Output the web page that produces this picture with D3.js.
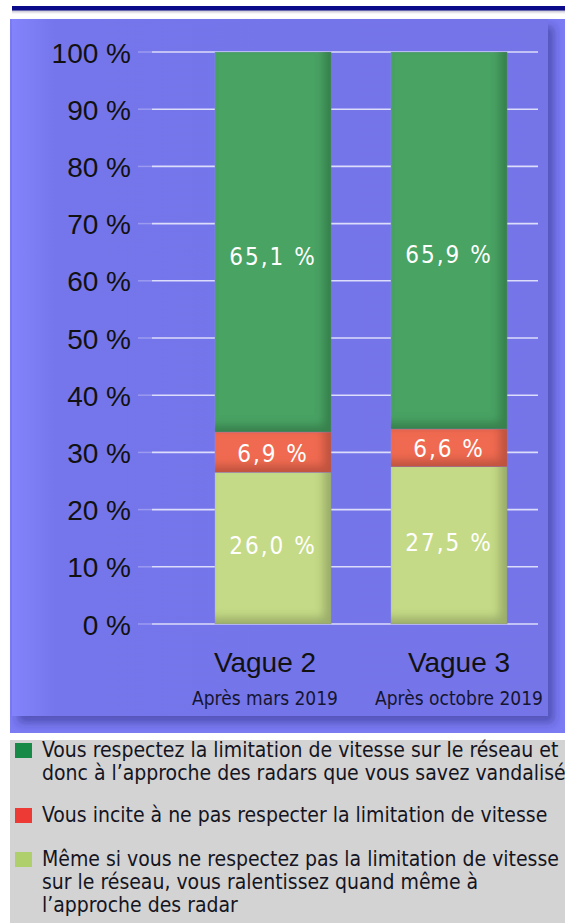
<!DOCTYPE html>
<html>
<head>
<meta charset="utf-8">
<script src="https://cdn.jsdelivr.net/npm/d3@7"></script>
<style>
  html, body { margin: 0; padding: 0; background: #ffffff; }
  svg { display: block; }
  .cond { font-family: "DejaVu Sans Condensed", "DejaVu Sans", sans-serif; font-stretch: condensed; }
  .arial { font-family: "Liberation Sans", Arial, sans-serif; }
</style>
</head>
<body>
<svg id="chart" width="565" height="923"></svg>
<script>
// Survey waves and their period captions
const categories = ["Vague 2", "Vague 3"];
const subtitles = ["Après mars 2019", "Après octobre 2019"];

// Answer shares per wave (%)
const respectValues = [65.1, 65.9];   // respect the limit everywhere
const inciteValues = [6.9, 6.6];      // encourages speeding
const ralentirValues = [26.0, 27.5];  // slow down near the radars anyway

// Stack order, bottom to top
const seriesKeys = ["ralentir", "incite", "respect"];
const seriesColors = ["#c4da86", "#f06a51", "#4aa363"];
const legendColors = ["#aecf6c", "#ee3a35", "#188a48"];

// Y axis ticks (%)
const yTicks = [0, 10, 20, 30, 40, 50, 60, 70, 80, 90, 100];

// Legend entries, top to bottom (one array of lines per entry)
const legendKeys = ["respect", "incite", "ralentir"];
const legendLines = [
  ["Vous respectez la limitation de vitesse sur le réseau et",
   "donc à l\u2019approche des radars que vous savez vandalisés"],
  ["Vous incite à ne pas respecter la limitation de vitesse"],
  ["Même si vous ne respectez pas la limitation de vitesse",
   "sur le réseau, vous ralentissez quand même à",
   "l\u2019approche des radar"]
];

const table = categories.map((c, i) => ({
  cat: c,
  respect: respectValues[i],
  incite: inciteValues[i],
  ralentir: ralentirValues[i]
}));

const svg = d3.select("#chart");
const defs = svg.append("defs");

// Soft bevel: darkened right and bottom inner edges
const bevel = defs.append("filter").attr("id", "bevel")
  .attr("x", "-5%").attr("y", "-5%").attr("width", "110%").attr("height", "110%");
bevel.append("feOffset").attr("in", "SourceAlpha").attr("dx", -8).attr("dy", -7).attr("result", "off");
bevel.append("feGaussianBlur").attr("in", "off").attr("stdDeviation", 4).attr("result", "blur");
bevel.append("feComposite").attr("in", "SourceAlpha").attr("in2", "blur").attr("operator", "out").attr("result", "edge");
bevel.append("feFlood").attr("flood-color", "#000").attr("flood-opacity", 0.4).attr("result", "col");
bevel.append("feComposite").attr("in", "col").attr("in2", "edge").attr("operator", "in").attr("result", "shade");
const bm = bevel.append("feMerge");
bm.append("feMergeNode").attr("in", "SourceGraphic");
bm.append("feMergeNode").attr("in", "shade");

// Drop shadow of the chart panel
const drop = defs.append("filter").attr("id", "drop")
  .attr("x", "-5%").attr("y", "-5%").attr("width", "110%").attr("height", "110%");
drop.append("feGaussianBlur").attr("in", "SourceAlpha").attr("stdDeviation", 4).attr("result", "b");
drop.append("feOffset").attr("in", "b").attr("dx", 6).attr("dy", 7).attr("result", "o");
drop.append("feFlood").attr("flood-color", "#2a2a80").attr("flood-opacity", 0.5).attr("result", "c");
drop.append("feComposite").attr("in", "c").attr("in2", "o").attr("operator", "in").attr("result", "s");
const dm = drop.append("feMerge");
dm.append("feMergeNode").attr("in", "s");
dm.append("feMergeNode").attr("in", "SourceGraphic");

const leftGlow = defs.append("linearGradient").attr("id", "leftGlow")
  .attr("x1", 0).attr("x2", 1).attr("y1", 0).attr("y2", 0);
leftGlow.append("stop").attr("offset", 0).attr("stop-color", "#8383fb");
leftGlow.append("stop").attr("offset", 0.08).attr("stop-color", "#7676ec");
leftGlow.append("stop").attr("offset", 1).attr("stop-color", "#7474e8");

const topShade = defs.append("linearGradient").attr("id", "topShade")
  .attr("x1", 0).attr("x2", 0).attr("y1", 0).attr("y2", 1);
topShade.append("stop").attr("offset", 0).attr("stop-color", "#b8b8c8");
topShade.append("stop").attr("offset", 1).attr("stop-color", "#ffffff");

// Header rule
svg.append("rect").attr("x", 12).attr("y", 10).attr("width", 553).attr("height", 4).attr("fill", "url(#topShade)");
svg.append("rect").attr("x", 12).attr("y", 6).attr("width", 553).attr("height", 4.5).attr("fill", "#0b0b8a");

// Chart panel
svg.append("rect").attr("x", 10).attr("y", 19).attr("width", 555).attr("height", 714).attr("fill", "#7b7bf3");
svg.append("rect").attr("x", 12).attr("y", 19).attr("width", 536).attr("height", 697)
  .attr("fill", "url(#leftGlow)").attr("filter", "url(#drop)");

// Scales
const y = d3.scaleLinear().domain([0, 1]).range([624, 52]);
const x = d3.scaleBand().domain(categories).range([185, 537]).paddingInner(0.34).paddingOuter(0.17);
const xLabel = d3.scalePoint().domain(categories).range([168, 556]).padding(0.5);

// Gridlines
const grid = svg.append("g");
grid.selectAll("line.faint").data(yTicks).join("line")
  .attr("x1", 138).attr("x2", 152)
  .attr("y1", d => y(d / 100)).attr("y2", d => y(d / 100))
  .attr("stroke", "#c8c8f6").attr("stroke-opacity", 0.45).attr("stroke-width", 1.5);
grid.selectAll("line.main").data(yTicks).join("line")
  .attr("x1", 152).attr("x2", 538)
  .attr("y1", d => y(d / 100)).attr("y2", d => y(d / 100))
  .attr("stroke", "#dcdcfb").attr("stroke-width", 1.6);

// Y axis labels
const yAxis = d3.axisLeft(y).tickValues(yTicks.map(d => d / 100))
  .tickFormat(d => Math.round(d * 100) + " %").tickSize(0).tickPadding(0);
const yg = svg.append("g").attr("transform", "translate(131,0)").call(yAxis);
yg.select(".domain").remove();
yg.selectAll("text").attr("class", "arial").attr("font-size", 28).attr("fill", "#111")
  .attr("dy", "0.36em");

// Stacked bars (shares normalised to 100 %)
const stack = d3.stack().keys(seriesKeys).offset(d3.stackOffsetExpand);
const layers = stack(table);
const labelShift = { ralentir: -3, incite: 1, respect: 14 };

const bars = svg.append("g");
layers.forEach((layer, li) => {
  const g = bars.append("g");
  g.selectAll("rect").data(layer).join("rect")
    .attr("x", d => x(d.data.cat))
    .attr("width", x.bandwidth())
    .attr("y", d => y(d[1]))
    .attr("height", d => y(d[0]) - y(d[1]))
    .attr("fill", seriesColors[li])
    .attr("stroke", "#9a9af0").attr("stroke-width", 0.6).attr("stroke-opacity", 0.5)
    .attr("filter", "url(#bevel)");
});
layers.forEach((layer) => {
  const key = layer.key;
  svg.append("g").selectAll("text").data(layer).join("text")
    .attr("class", "cond")
    .attr("x", d => x(d.data.cat) + x.bandwidth() / 2)
    .attr("y", d => (y(d[0]) + y(d[1])) / 2 + labelShift[key])
    .attr("dy", "0.36em")
    .attr("text-anchor", "middle")
    .attr("font-size", 24)
    .attr("letter-spacing", 2)
    .attr("fill", "#ffffff")
    .text(d => d.data[key].toFixed(1).replace(".", ",") + " %");
});

// Category labels
const xl = svg.append("g");
xl.selectAll("text.cat").data(categories).join("text")
  .attr("class", "arial")
  .attr("x", d => xLabel(d)).attr("y", 672)
  .attr("text-anchor", "middle").attr("font-size", 28).attr("fill", "#111")
  .text(d => d);
xl.selectAll("text.sub").data(categories).join("text")
  .attr("class", "cond")
  .attr("x", d => xLabel(d)).attr("y", 705)
  .attr("text-anchor", "middle").attr("font-size", 19).attr("fill", "#151530")
  .text((d, i) => subtitles[i]);

// Legend
svg.append("rect").attr("x", 10).attr("y", 740).attr("width", 555).attr("height", 183).attr("fill", "#d3d3d3");
const legendTop = [757, 822, 866];
const lineGap = 23;
const lg = svg.append("g");
legendKeys.forEach((k, i) => {
  const ci = seriesKeys.indexOf(k);
  lg.append("rect").attr("x", 15).attr("y", legendTop[i] - 14).attr("width", 17).attr("height", 15)
    .attr("fill", legendColors[ci]);
  legendLines[i].forEach((line, j) => {
    lg.append("text").attr("class", "cond")
      .attr("x", 42).attr("y", legendTop[i] + j * lineGap)
      .attr("font-size", 21).attr("fill", "#15151f")
      .text(line);
  });
});
</script>
</body>
</html>
